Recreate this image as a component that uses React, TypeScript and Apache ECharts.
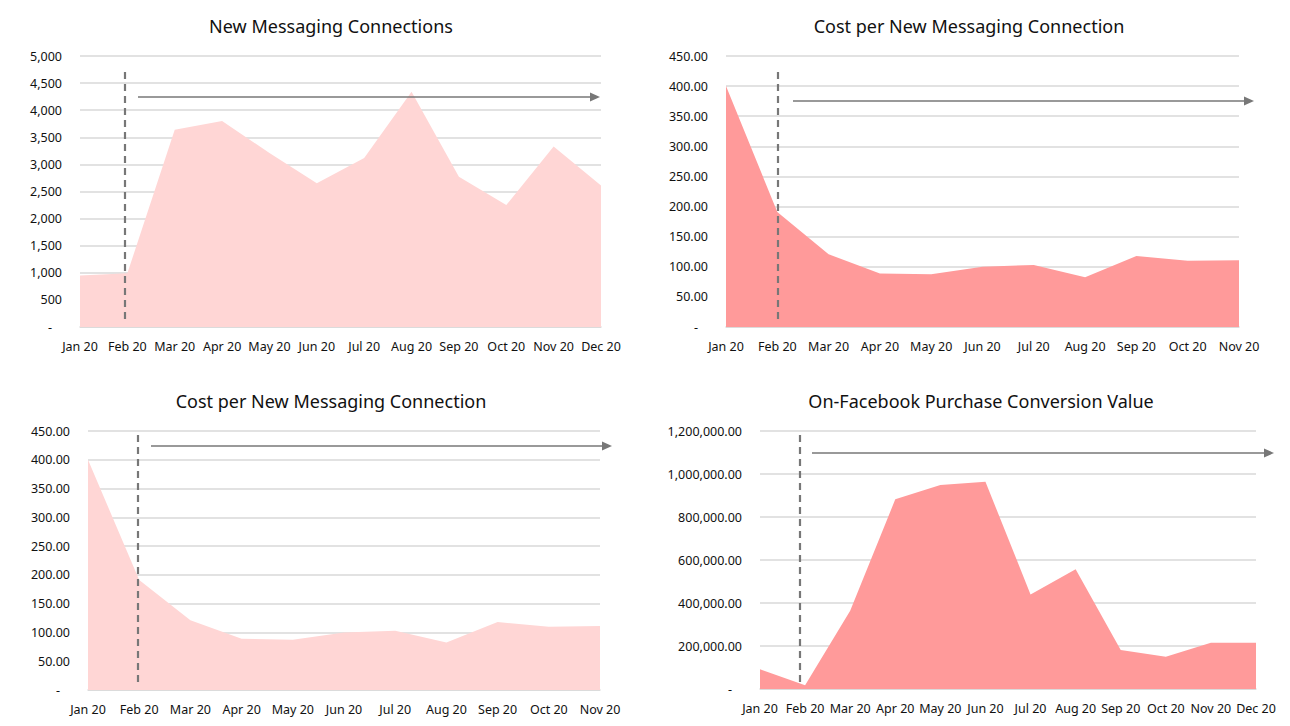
import React, { useEffect, useRef } from "react";
import * as echarts from "echarts";

const months12 = ["Jan 20", "Feb 20", "Mar 20", "Apr 20", "May 20", "Jun 20", "Jul 20", "Aug 20", "Sep 20", "Oct 20", "Nov 20", "Dec 20"];
const months11 = months12.slice(0, 11);

const newConnections = [950, 990, 3640, 3800, 3210, 2650, 3120, 4340, 2770, 2250, 3330, 2610];
const costPerConnection = [400, 191, 121, 89, 87.5, 100, 103, 82.5, 118, 110, 111];
const purchaseValue = [92000, 18000, 364000, 882000, 949000, 964000, 440000, 557000, 181000, 150000, 215000, 215000];

const titles = [
  "New Messaging Connections",
  "Cost per New Messaging Connection",
  "Cost per New Messaging Connection",
  "On-Facebook Purchase Conversion Value",
];

const LIGHT = "#FFD6D5";
const DARK = "#FF9A9A";
const GRID_C = "#D9D9D9";
const ANN = "#777777";
const FONT = "'Noto Sans', sans-serif";

function fmtThousands(v: number, dec: number) {
  return v.toLocaleString("en-US", { minimumFractionDigits: dec, maximumFractionDigits: dec });
}

export default function App() {
  const ref = useRef<HTMLDivElement>(null);
  useEffect(() => {
    if (!ref.current) return;
    const chart = echarts.init(ref.current, null, { renderer: "svg" });

    const grids = [
      { left: 80, top: 56, width: 521, height: 271 },
      { left: 726, top: 56, width: 513, height: 271 },
      { left: 88, top: 431, width: 512, height: 259 },
      { left: 760, top: 431, width: 496, height: 258 },
    ];

    const dash = (mk: (v: number) => string) => (v: number) => (v === 0 ? "{d|-}" : mk(v));

    const yAxes = [
      { max: 5000, interval: 500, fmt: dash((v) => fmtThousands(v, 0)) },
      { max: 450, interval: 50, fmt: dash((v) => v.toFixed(2)) },
      { max: 450, interval: 50, fmt: dash((v) => v.toFixed(2)) },
      { max: 1200000, interval: 200000, fmt: dash((v) => fmtThousands(v, 2)) },
    ].map((a, i) => ({
      type: "value",
      gridIndex: i,
      min: 0,
      max: a.max,
      interval: a.interval,
      axisLine: { show: false },
      axisTick: { show: false },
      splitLine: { show: true, lineStyle: { color: GRID_C, width: 1.5 } },
      axisLabel: {
        formatter: a.fmt,
        color: "#111",
        fontFamily: FONT,
        fontSize: 12.5,
        margin: 18,
        rich: { d: { padding: [0, 10, 0, 0], color: "#111", fontFamily: FONT, fontSize: 12.5 } },
      },
    }));

    const cats = [months12, months11, months11, months12];
    const xAxes = cats.map((c, i) => ({
      type: "category",
      gridIndex: i,
      data: c,
      boundaryGap: false,
      axisLine: { show: true, lineStyle: { color: GRID_C, width: 1.5 } },
      axisTick: { show: false },
      axisLabel: { color: "#111", fontFamily: FONT, fontSize: 12.5, margin: 13, interval: 0 },
    }));

    const datas = [newConnections, costPerConnection, costPerConnection, purchaseValue];
    const colors = [LIGHT, DARK, LIGHT, DARK];
    const series = datas.map((d, i) => ({
      type: "line",
      xAxisIndex: i,
      yAxisIndex: i,
      data: d,
      symbol: "none",
      lineStyle: { width: 0 },
      areaStyle: { color: colors[i], opacity: 1 },
      z: 2,
    }));

    const titleCenters = [
      { x: 326, y: 12 },
      { x: 964, y: 12 },
      { x: 326, y: 387 },
      { x: 976, y: 387 },
    ];
    const title = titles.map((t, i) => ({
      text: t,
      left: titleCenters[i].x,
      top: titleCenters[i].y,
      textAlign: "center",
      textStyle: { fontFamily: FONT, fontSize: 18, fontWeight: "normal", color: "#111" },
    }));

    const ann = [
      { dx: 125, dy1: 72, dy2: 322, ay: 97, ax1: 138, ax2: 600 },
      { dx: 778, dy1: 72, dy2: 322, ay: 101, ax1: 793, ax2: 1254 },
      { dx: 138, dy1: 435, dy2: 685, ay: 446, ax1: 151, ax2: 612 },
      { dx: 800, dy1: 435, dy2: 685, ay: 453, ax1: 812, ax2: 1274 },
    ];
    const graphic: any[] = [];
    ann.forEach((a) => {
      graphic.push({
        type: "line",
        shape: { x1: a.dx, y1: a.dy1, x2: a.dx, y2: a.dy2 },
        style: { stroke: ANN, lineWidth: 2.2, lineDash: [7, 5] },
        z: 10,
      });
      graphic.push({
        type: "line",
        shape: { x1: a.ax1, y1: a.ay, x2: a.ax2 - 8, y2: a.ay },
        style: { stroke: ANN, lineWidth: 1.5 },
        z: 10,
      });
      graphic.push({
        type: "polygon",
        shape: { points: [[a.ax2, a.ay], [a.ax2 - 10, a.ay - 4.5], [a.ax2 - 10, a.ay + 4.5]] },
        style: { fill: ANN },
        z: 10,
      });
    });

    chart.setOption({
      animation: false,
      backgroundColor: "#fff",
      title,
      grid: grids,
      xAxis: xAxes,
      yAxis: yAxes,
      series,
      graphic,
    });
    return () => chart.dispose();
  }, []);
  return <div ref={ref} style={{ position: "fixed", left: 0, top: 0, width: 1290, height: 726 }} />;
}
